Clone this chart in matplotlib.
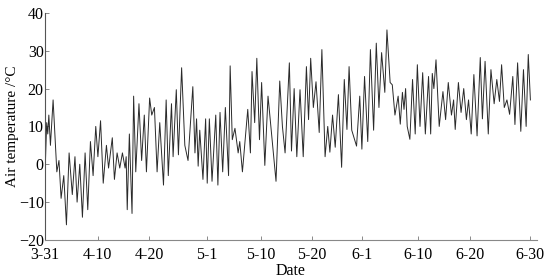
import matplotlib
matplotlib.use("Agg")
import matplotlib.pyplot as plt

# turning points of the hourly air temperature trace
# day = days since 3-31, temp in degC
day = [0.0, 0.3, 0.5, 0.7, 1.0, 1.5, 2.2, 2.6, 3.0, 3.5, 4.0, 4.5, 5.1, 5.6, 6.0, 6.5,
       7.0, 7.5, 8.0, 8.5, 9.0, 9.5, 9.9, 10.4, 10.9, 11.5, 11.9, 12.6, 13.0, 13.5, 14.0, 14.5,
       15.0, 15.2, 15.4, 15.8, 16.3, 16.6, 17.0, 17.6, 18.1, 18.6, 19.0, 19.6, 20.0, 20.5,
       21.0, 21.5, 22.2, 22.7, 23.1, 23.7, 24.0, 24.6, 25.0, 25.6, 26.2, 26.8, 27.7, 28.1,
       28.4, 28.7, 29.0, 29.6, 30.1, 30.4, 30.8, 31.3, 32.0, 32.4, 32.8, 33.3, 33.8, 34.4,
       34.7, 35.1, 35.6, 36.2, 36.5, 37.0, 38.0, 38.5, 38.8, 39.3, 39.7, 40.2, 40.6, 41.2,
       41.8, 42.4, 43.3, 44.0, 44.5, 45.0, 45.8, 46.2, 46.7, 47.2, 47.8, 48.4, 49.0, 49.4,
       49.8, 50.3, 50.8, 51.4, 51.9, 52.5, 53.0, 53.4, 53.9, 54.4, 55.0, 55.6, 56.1, 56.6,
       57.0, 57.5, 58.4, 59.0, 59.4, 59.9, 60.5, 61.0, 61.6, 62.1, 62.6, 63.1, 63.7, 64.1,
       64.7, 65.1, 65.6, 66.2, 66.6, 67.0, 67.3, 67.6, 67.9, 68.4, 68.9, 69.4, 69.8, 70.3,
       70.8, 71.3, 71.9, 72.3, 72.6, 72.9, 73.3, 73.9, 74.6, 75.1, 75.6, 76.2, 76.6, 76.9,
       77.5, 78.0, 78.5, 79.0, 79.4, 79.9, 80.4, 81.0, 81.6, 82.0, 82.5, 83.1, 83.6, 84.2,
       84.7, 85.2, 85.6, 86.1, 86.6, 87.1, 87.7, 88.1, 88.6, 89.2, 89.7, 90.2, 90.6, 91.0]
temp = [-2, 11, 8, 13, 5, 17, -2, 1, -9, -3, -16, 3, -8, 2, -10, 0,
        -14, 3, -12, 6, -3, 10, 2, 11.5, -5, 5, -1, 7, -4, 3, -1, 3,
        -1, 2, -12, 8, -13, 18, -2, 16, 1, 13, -2, 17.5, 13, 15,
        -2, 11, -5.5, 17, -3, 16, 2, 19.7, 2.5, 25.5, 5, 1, 20.5, 3,
        12, -0.5, 9, -4, 12, -5, 12, -4.5, 13, -5.5, 13.7, -2, 15, -3,
        26, 6.5, 9.5, 3, 6, -2, 14.5, 3, 24.5, 11, 28, 6.5, 21.6, -0.3,
        18, 9, -4.5, 22, 10, 3, 26.8, 3.5, 20, 2, 19.7, 2, 25.8, 11.8,
        28, 15, 21.8, 8.4, 30.3, 2, 10, 3.2, 13, 4.5, 18.4, -0.8, 22.4, 9.2,
        25.8, 9, 4.8, 18, 4, 23.2, 6, 30.3, 9, 32, 15, 29.5, 19, 35.5,
        21.6, 21, 13, 18, 10.6, 19, 14.5, 20, 10, 6.6, 22.4, 8, 26.3, 10,
        24.2, 8, 23.2, 8, 24, 20, 27.6, 10, 19.2, 11.8, 21.6, 13, 17, 9.2,
        21.6, 13.7, 20, 11.8, 17, 8, 23.7, 7.5, 28.2, 12, 27.2, 8, 25, 16,
        22.4, 16.6, 26.3, 15, 17, 13.2, 23.2, 10.5, 26.8, 8.7, 25, 10, 29, 17]

tick_labels = ["3-31", "4-10", "4-20", "5-1", "5-10", "5-20", "6-1", "6-10", "6-20", "6-30"]
tick_pos = [0, 9.87, 19.55, 30.4, 40.4, 49.96, 59.4, 69.9, 79.7, 91.0]

plt.rcParams['font.family'] = ['Liberation Serif', 'DejaVu Serif']

fig = plt.figure(figsize=(5.5, 2.8), dpi=100)
ax = fig.add_axes([0.082, 0.143, 0.894, 0.811])

ax.plot(day, temp, color="#2a2a2a", lw=0.7)

ax.set_xlim(0, 92.2)
ax.set_ylim(-20, 40)
ax.set_yticks([-20, -10, 0, 10, 20, 30, 40])
ax.set_xticks(tick_pos)
ax.set_xticklabels(tick_labels)

for s in ["top", "right"]:
    ax.spines[s].set_visible(False)
ax.spines["left"].set_color("#555555")
ax.spines["bottom"].set_color("#888888")
ax.tick_params(direction="in", length=3, width=0.6, color="#777777",
               labelsize=11.5, pad=1)
ax.tick_params(axis="x", pad=5)

ax.set_xlabel("Date", fontsize=11.5, labelpad=0)
ax.set_ylabel("Air temperature /\u00b0C", fontsize=11, labelpad=0)

fig.savefig("out.png", dpi=100)
